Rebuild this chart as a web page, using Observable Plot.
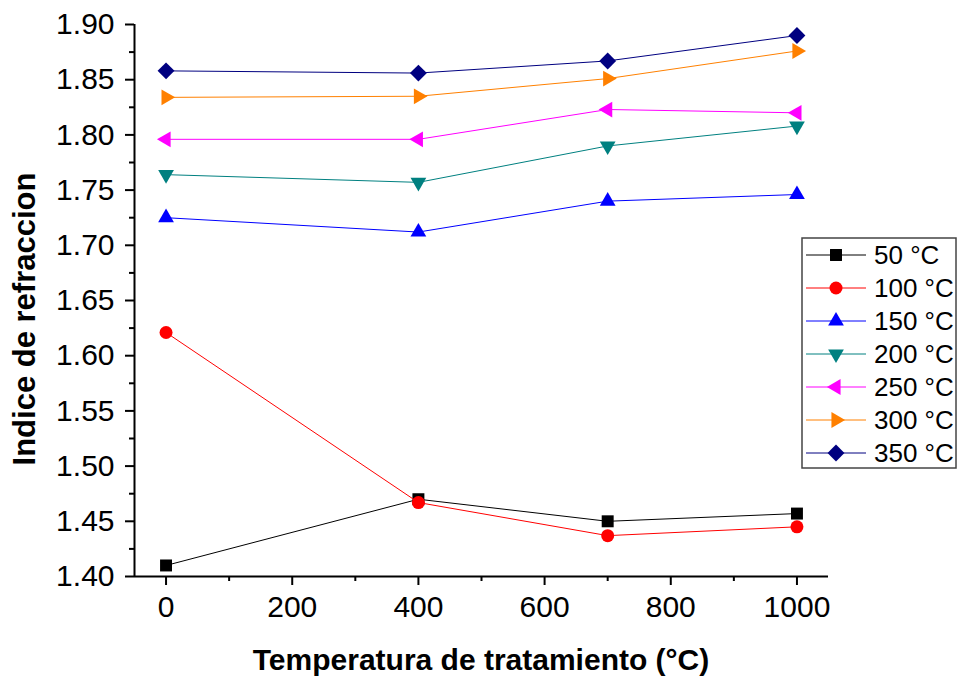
<!DOCTYPE html>
<html><head><meta charset="utf-8">
<script src="https://cdn.jsdelivr.net/npm/d3@7"></script>
<script src="https://cdn.jsdelivr.net/npm/@observablehq/plot@0.6"></script>
<style>
body{margin:0;background:#fff}
</style>
</head><body><div id="chart"></div>
<script>
// ---- data ----
const xValues = [0, 400, 700, 1000];
const seriesNames = ["50 °C", "100 °C", "150 °C", "200 °C", "250 °C", "300 °C", "350 °C"];
const seriesColors = ["#000000", "#ff0000", "#0000ff", "#008080", "#ff00ff", "#ff8000", "#000080"];
const s50  = [1.410, 1.470, 1.450, 1.457];
const s100 = [1.621, 1.467, 1.437, 1.445];
const s150 = [1.725, 1.712, 1.740, 1.746];
const s200 = [1.764, 1.757, 1.790, 1.808];
const s250 = [1.796, 1.796, 1.823, 1.820];
const s300 = [1.834, 1.835, 1.851, 1.876];
const s350 = [1.858, 1.856, 1.867, 1.890];
const seriesValues = [s50, s100, s150, s200, s250, s300, s350];
const xMajor = [0, 200, 400, 600, 800, 1000];
const xMinor = [100, 300, 500, 700, 900];
const yMajor = [1.40, 1.45, 1.50, 1.55, 1.60, 1.65, 1.70, 1.75, 1.80, 1.85, 1.90];
const yMinor = [1.425, 1.475, 1.525, 1.575, 1.625, 1.675, 1.725, 1.775, 1.825, 1.875];
const xDomain = [-50, 1050];
const yDomain = [1.40, 1.90];
const xTitle = "Temperatura de tratamiento (°C)";
const yTitle = "Indice de refraccion";

// ---- symbols ----
function tri(angleDeg) {
  return {draw(ctx, size) {
    const R = Math.sqrt(size / Math.PI) * 1.4;
    for (let i = 0; i < 3; i++) {
      const a = (angleDeg + i * 120) * Math.PI / 180;
      const x = R * Math.cos(a), y = R * Math.sin(a);
      if (i) ctx.lineTo(x, y); else ctx.moveTo(x, y);
    }
    ctx.closePath();
  }};
}
const sqr = {draw(ctx, size) { const h = Math.sqrt(size / Math.PI) * 0.92; ctx.rect(-h, -h, 2 * h, 2 * h); }};
const circ = {draw(ctx, size) { const r = Math.sqrt(size / Math.PI); ctx.moveTo(r, 0); ctx.arc(0, 0, r, 0, 2 * Math.PI); }};
const diam = {draw(ctx, size) { const h = Math.sqrt(size / Math.PI) * 1.3; ctx.moveTo(0, -h); ctx.lineTo(h, 0); ctx.lineTo(0, h); ctx.lineTo(-h, 0); ctx.closePath(); }};
const seriesSymbols = [sqr, circ, tri(-90), tri(90), tri(180), tri(0), diam];
const R = 6.5;

const seriesData = seriesNames.map((name, i) => xValues.map((x, j) => ({x, y: seriesValues[i][j], name})));

const marks = [];
seriesData.forEach((d, i) => {
  marks.push(Plot.line(d, {x: "x", y: "y", stroke: seriesColors[i], strokeWidth: 1}));
  marks.push(Plot.dot(d, {x: "x", y: "y", symbol: seriesSymbols[i], r: R, fill: seriesColors[i], stroke: "none"}));
});

const tickFont = 30;
const chart = Plot.plot({
  width: 960, height: 681,
  marginLeft: 134, marginRight: 132, marginTop: 24, marginBottom: 105,
  style: {fontFamily: "'Liberation Sans', Arial, sans-serif", color: "#000", background: "#fff", overflow: "visible"},
  x: {domain: xDomain},
  y: {domain: yDomain},
  marks: [
    Plot.axisX({ticks: xMinor, tickSize: 5, tickFormat: () => "", label: null, strokeWidth: 2}),
    Plot.axisX({ticks: xMajor, tickSize: 9, tickPadding: 10, tickFormat: d3.format("d"), label: null, strokeWidth: 2, fontSize: tickFont}),
    Plot.axisY({ticks: yMinor, tickSize: 5, tickFormat: () => "", label: null, strokeWidth: 2}),
    Plot.axisY({ticks: yMajor, tickSize: 9, tickPadding: 11, tickFormat: d3.format(".2f"), label: null, strokeWidth: 2, fontSize: tickFont}),
    Plot.ruleX([xDomain[0]], {strokeWidth: 2}),
    Plot.ruleY([yDomain[0]], {strokeWidth: 2}),
    ...marks
  ]
});
document.getElementById("chart").appendChild(chart);

const svg = d3.select(chart);
svg.selectAll("text").attr("font-size", tickFont).style("font-size", tickFont + "px");

// ---- titles & legend ----
svg.append("text").text(xTitle)
  .attr("x", 481).attr("y", 670).attr("text-anchor", "middle")
  .attr("font-weight", "bold").style("font-size", "30px").attr("fill", "#000");
svg.append("text").text(yTitle)
  .attr("transform", "translate(35,319) rotate(-90)").attr("text-anchor", "middle")
  .attr("font-weight", "bold").style("font-size", "31px").attr("fill", "#000");

const lg = svg.append("g").attr("transform", "translate(802,238)");
lg.append("rect").attr("width", 154).attr("height", 230).attr("fill", "#fff").attr("stroke", "#444").attr("stroke-width", 1.5);
seriesNames.forEach((name, i) => {
  const y = 17 + i * 33;
  const row = lg.append("g").attr("transform", `translate(0,${y})`);
  row.append("line").attr("x1", 4).attr("x2", 64).attr("stroke", seriesColors[i]).attr("stroke-width", 1);
  row.append("path").attr("transform", "translate(34,0)")
    .attr("d", d3.symbol().type(seriesSymbols[i]).size(Math.PI * R * R)()).attr("fill", seriesColors[i]);
  row.append("text").text(name).attr("x", 72).attr("y", 0).attr("dy", "0.36em")
    .attr("text-anchor", "start").style("font-size", "26px").attr("fill", "#000");
});
</script>
</body></html>
